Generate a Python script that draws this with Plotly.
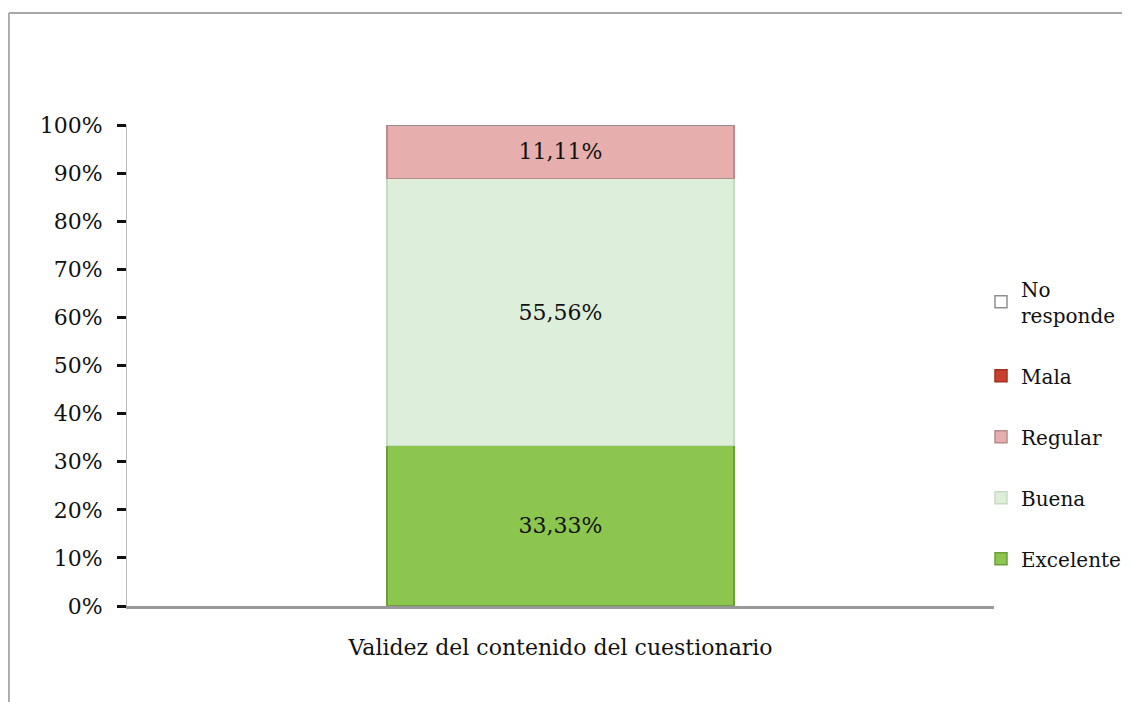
import plotly.graph_objects as go

# Datos
categoria = ["Validez del contenido del cuestionario"]
series = ["Excelente", "Buena", "Regular", "Mala", "No<br>responde"]
valores = [0.3333, 0.5556, 0.1111, 0.0, 0.0]
colores = ["#8CC64F", "#DDEEDB", "#E6AFAE", "#C8412F", "#FFFFFF"]
bordes = ["#6E9E3A", "#C5DCC3", "#B78C8B", "#A03020", "#909090"]

fuente = "DejaVu Serif"

fig = go.Figure()
for i, (nombre, v, c, b) in enumerate(zip(series, valores, colores, bordes)):
    etiqueta = f"{v * 100:.2f}%".replace(".", ",") if v > 0 else ""
    fig.add_trace(go.Bar(
        x=categoria, y=[v], name=nombre,
        marker=dict(color=c, line=dict(color=b, width=1.5)),
        text=[etiqueta], textposition="inside", insidetextanchor="middle",
        textfont=dict(family=fuente, size=22, color="#111111"),
        width=0.40, legendgroup=nombre, legendrank=len(series) - i,
    ))

# marco exterior del gráfico
fig.add_shape(type="line", xref="paper", yref="paper",
              x0=-0.1363, x1=-0.1363, y0=-0.3, y1=1.2328,
              line=dict(color="#A8A8A8", width=2))
fig.add_shape(type="line", xref="paper", yref="paper",
              x0=-0.1363, x1=1.2, y0=1.2328, y1=1.2328,
              line=dict(color="#A8A8A8", width=2))

fig.update_layout(
    width=1130, height=702,
    margin=dict(l=119, r=138, t=117, b=104),
    barmode="stack",
    plot_bgcolor="white", paper_bgcolor="white",
    font=dict(family=fuente, size=22, color="#111111"),
    showlegend=True,
    legend=dict(traceorder="grouped", x=0.985, xanchor="left",
                y=0.70, yanchor="top",
                font=dict(family=fuente, size=20), tracegroupgap=32,
                itemwidth=30, bgcolor="rgba(0,0,0,0)"),
    xaxis=dict(showline=True, linecolor="#999999", linewidth=3,
               ticks="", ticklabelstandoff=20,
               tickfont=dict(family=fuente, size=22)),
    yaxis=dict(range=[0, 1], dtick=0.1, tickformat=".0%",
               showgrid=False, zeroline=False,
               showline=True, linecolor="#BBBBBB", linewidth=1,
               ticks="outside", ticklen=9, tickwidth=3, tickcolor="#111111",
               ticklabelstandoff=10,
               tickfont=dict(family=fuente, size=22)),
)

fig.write_html("out.html")
